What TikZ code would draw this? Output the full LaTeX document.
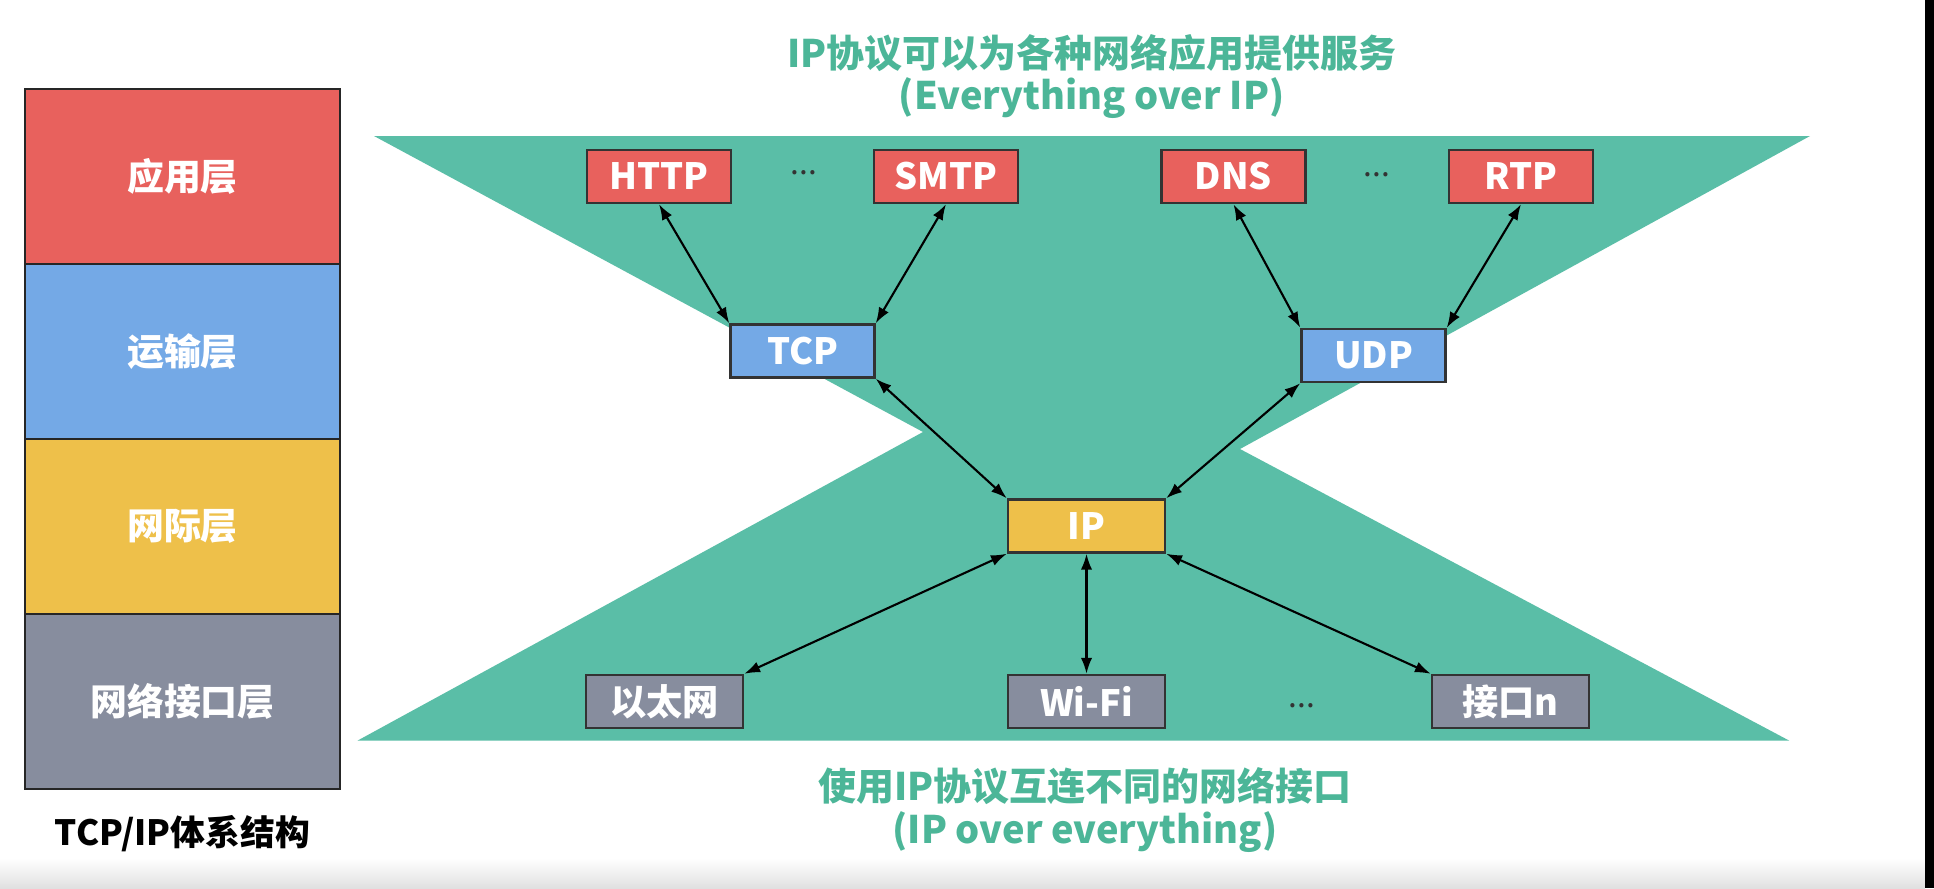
\documentclass[tikz,border=0pt]{standalone}
\usepackage{fontspec}
\setmainfont{Noto Sans CJK SC}
\definecolor{netred}{RGB}{232,97,93}
\definecolor{netblue}{RGB}{116,169,230}
\definecolor{netyellow}{RGB}{238,192,74}
\definecolor{netgray}{RGB}{135,141,158}
\definecolor{netteal}{RGB}{90,190,167}
\definecolor{nettext}{RGB}{76,182,152}
\usetikzlibrary{arrows.meta,positioning}

\begin{document}
\begin{tikzpicture}[
  >={Latex[length=4.5pt,width=3.2pt]},
  layer/.style={draw=black!85,line width=0.6pt,minimum width=3.157cm,minimum height=1.75cm,
    inner sep=0pt,text=white,font=\fontsize{10.5pt}{12pt}\selectfont\bfseries},
  proto/.style={draw=black!80,line width=0.7pt,minimum width=1.44cm,minimum height=0.53cm,
    inner sep=0pt,text=white,font=\fontsize{10.3pt}{12pt}\selectfont\bfseries},
  wide/.style={proto,minimum width=1.57cm},
  caption/.style={text=nettext,inner sep=0pt,font=\fontsize{10.8pt}{13pt}\selectfont\bfseries},
  dotsep/.style={text=black!80,inner sep=0pt,font=\fontsize{9pt}{11pt}\selectfont},
  link/.style={<->,line width=0.6pt}
]
  \useasboundingbox (0,0) rectangle (19.34,8.88);
  \fill[white] (0,0) rectangle (19.34,8.88);
  \shade[top color=white,bottom color=black!12] (0,0) rectangle (19.25,0.30);
  \fill[black] (19.25,0) rectangle (19.34,8.88);

  % Layer stack
  \node[layer,fill=netred] (app) at (1.825,7.115) {应用层};
  \node[layer,fill=netblue] (trans) at (1.825,5.365) {运输层};
  \node[layer,fill=netyellow] (inet) at (1.825,3.615) {网际层};
  \node[layer,fill=netgray] (netif) at (1.825,1.865) {网络接口层};
  \node[inner sep=0pt,font=\fontsize{9.9pt}{12pt}\selectfont\bfseries] (archcap) at (1.825,0.54) {TCP/IP体系结构};

  % Hourglass
  \fill[netteal] (3.74,7.52) -- (18.10,7.52) -- (12.40,4.39) -- (17.89,1.475)
    -- (3.577,1.475) -- (9.23,4.56) -- cycle;

  % Titles
  \node[caption] (toptitle) at (10.916,8.35) {IP协议可以为各种网络应用提供服务};
  \node[caption] (topsub) at (10.916,7.90) {(Everything over IP)};
  \node[caption] (bottitle) at (10.85,1.02) {使用IP协议互连不同的网络接口};
  \node[caption] (botsub) at (10.85,0.555) {(IP over everything)};

  % Application row
  \node[proto,fill=netred] (http) at (6.59,7.115) {HTTP};
  \node[dotsep] (dotsa) at (8.04,7.15) {...};
  \node[proto,fill=netred] (smtp) at (9.46,7.115) {SMTP};
  \node[proto,fill=netred] (dns) at (12.335,7.115) {DNS};
  \node[dotsep] (dotsb) at (13.77,7.13) {...};
  \node[proto,fill=netred] (rtp) at (15.21,7.115) {RTP};

  % Transport row
  \node[proto,fill=netblue] (tcp) at (8.025,5.37) {TCP};
  \node[proto,fill=netblue] (udp) at (13.735,5.325) {UDP};

  % Internet row
  \node[wide,fill=netyellow] (ip) at (10.865,3.62) {IP};

  % Interface row
  \node[wide,fill=netgray] (eth) at (6.645,1.865) {以太网};
  \node[wide,fill=netgray] (wifi) at (10.865,1.865) {Wi-Fi};
  \node[dotsep] (dotsc) at (13.02,1.82) {...};
  \node[wide,fill=netgray] (ifn) at (15.105,1.865) {接口n};

  \draw[link] (http.south) -- (tcp.north west);
  \draw[link] (smtp.south) -- (tcp.north east);
  \draw[link] (dns.south) -- (udp.north west);
  \draw[link] (rtp.south) -- (udp.north east);
  \draw[link] (tcp.south east) -- (ip.north west);
  \draw[link] (udp.south west) -- (ip.north east);
  \draw[link] (ip.south west) -- (eth.north east);
  \draw[link] (ip.south) -- (wifi.north);
  \draw[link] (ip.south east) -- (ifn.north west);
\end{tikzpicture}
\end{document}
